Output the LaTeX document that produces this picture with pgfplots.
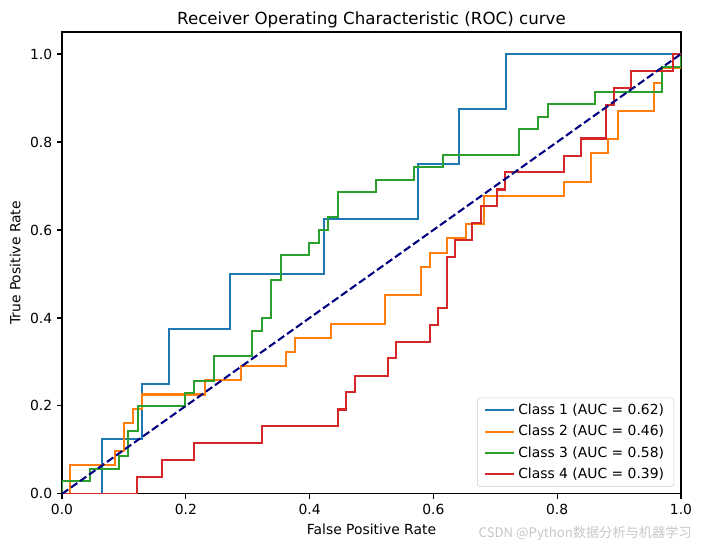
\documentclass[border=0pt]{standalone}
\usepackage{pgfplots}
\pgfplotsset{compat=1.18}
\usepackage{fontspec}
\setmainfont{DejaVu Sans}
\newfontfamily\cjk{Noto Sans CJK SC}

\definecolor{c0}{HTML}{1F77B4}
\definecolor{c1}{HTML}{FF7F0E}
\definecolor{c2}{HTML}{2CA02C}
\definecolor{c3}{HTML}{D62728}
\definecolor{navy}{HTML}{000080}

\begin{document}
\begin{tikzpicture}
  \begin{axis}[
    width=445.7pt, height=332.6pt, scale only axis,
    xmin=0, xmax=1, ymin=0, ymax=1.05,
    xtick={0,0.2,0.4,0.6,0.8,1},
    ytick={0,0.2,0.4,0.6,0.8,1},
    tick align=outside, tick pos=left,
    major tick length=3.5pt,
    every tick/.style={black, line width=0.8pt},
    axis line style={line width=0.8pt},
    /pgf/number format/assume math mode=true,
    /pgf/number format/.cd, fixed, fixed zerofill, precision=1, /pgfplots/.cd,
    ticklabel style={font=\fontsize{10}{12}\selectfont},
    title={Receiver Operating Characteristic (ROC) curve},
    title style={font=\fontsize{12}{14}\selectfont, yshift=-6.3pt},
    xlabel={False Positive Rate},
    ylabel={True Positive Rate},
    label style={font=\fontsize{10}{12}\selectfont},
    legend cell align=left,
    legend style={
      at={(1,0)}, anchor=south east, xshift=-5pt, yshift=5pt,
      draw=black!20, rounded corners=2pt, fill=white, fill opacity=0.8, text opacity=1,
      font=\fontsize{10}{12}\selectfont,
      row sep=2.2pt, inner xsep=5pt, inner ysep=2.5pt,
    },
    legend image code/.code={\draw[#1] (0pt,0pt) -- (21pt,0pt);},
  ]

    \addplot[c0, line width=1.5pt] coordinates {
      (0,0) (0.065,0) (0.065,0.125) (0.129,0.125) (0.129,0.25) (0.173,0.25)
      (0.173,0.375) (0.271,0.375) (0.271,0.5) (0.423,0.5) (0.423,0.625)
      (0.575,0.625) (0.575,0.75) (0.641,0.75) (0.641,0.875) (0.717,0.875)
      (0.717,1) (1,1)
    }; % class 1

    \addplot[c1, line width=1.5pt] coordinates {
      (0,0) (0.013,0) (0.013,0.065) (0.086,0.065) (0.086,0.097) (0.100,0.097)
      (0.100,0.161) (0.115,0.161) (0.115,0.194) (0.129,0.194) (0.129,0.226)
      (0.231,0.226) (0.231,0.258) (0.289,0.258) (0.289,0.290) (0.362,0.290)
      (0.362,0.323) (0.377,0.323) (0.377,0.355) (0.435,0.355) (0.435,0.387)
      (0.522,0.387) (0.522,0.452) (0.580,0.452) (0.580,0.516) (0.595,0.516)
      (0.595,0.548) (0.622,0.548) (0.622,0.581) (0.653,0.581) (0.653,0.613)
      (0.682,0.613) (0.682,0.677) (0.811,0.677) (0.811,0.710) (0.855,0.710)
      (0.855,0.774) (0.882,0.774) (0.882,0.806) (0.898,0.806) (0.898,0.871)
      (0.956,0.871) (0.956,0.935) (0.969,0.935) (0.969,0.968) (1,0.968) (1,1)
    }; % class 2

    \addplot[c2, line width=1.5pt] coordinates {
      (0,0) (0,0.029) (0.045,0.029) (0.045,0.057) (0.092,0.057) (0.092,0.086)
      (0.107,0.086) (0.107,0.143) (0.123,0.143) (0.123,0.2) (0.199,0.2)
      (0.199,0.229) (0.213,0.229) (0.213,0.257) (0.245,0.257) (0.245,0.314)
      (0.307,0.314) (0.307,0.371) (0.323,0.371) (0.323,0.4) (0.338,0.4)
      (0.338,0.486) (0.354,0.486) (0.354,0.543) (0.399,0.543) (0.399,0.571)
      (0.415,0.571) (0.415,0.6) (0.430,0.6) (0.430,0.629) (0.446,0.629)
      (0.446,0.686) (0.507,0.686) (0.507,0.714) (0.569,0.714) (0.569,0.743)
      (0.615,0.743) (0.615,0.771) (0.738,0.771) (0.738,0.829) (0.769,0.829)
      (0.769,0.857) (0.785,0.857) (0.785,0.886) (0.861,0.886) (0.861,0.914)
      (0.969,0.914) (0.969,0.971) (1,0.971) (1,1)
    }; % class 3

    \addplot[c3, line width=1.5pt] coordinates {
      (0,0) (0.121,0) (0.121,0.038) (0.162,0.038) (0.162,0.077) (0.213,0.077)
      (0.213,0.115) (0.323,0.115) (0.323,0.154) (0.446,0.154) (0.446,0.192)
      (0.459,0.192) (0.459,0.231) (0.473,0.231) (0.473,0.269) (0.527,0.269)
      (0.527,0.308) (0.540,0.308) (0.540,0.346) (0.595,0.346) (0.595,0.385)
      (0.607,0.385) (0.607,0.423) (0.622,0.423) (0.622,0.538) (0.635,0.538)
      (0.635,0.577) (0.662,0.577) (0.662,0.615) (0.677,0.615) (0.677,0.654)
      (0.703,0.654) (0.703,0.692) (0.716,0.692) (0.716,0.731) (0.811,0.731)
      (0.811,0.769) (0.838,0.769) (0.838,0.808) (0.879,0.808) (0.879,0.885)
      (0.892,0.885) (0.892,0.923) (0.919,0.923) (0.919,0.962) (0.987,0.962)
      (0.987,1) (1,1)
    }; % class 4

    \addplot[navy, line width=1.5pt, dash pattern=on 5.55pt off 2.4pt, forget plot]
      coordinates {(0,0) (1,1)};

    \legend{Class 1 (AUC = 0.62), Class 2 (AUC = 0.46), Class 3 (AUC = 0.58), Class 4 (AUC = 0.39)}
  \end{axis}
  \node[anchor=east, text=black!22, font=\cjk\fontsize{9.5}{11}\selectfont, inner sep=0pt]
    at ([xshift=7.9pt, yshift=-28.1pt]current axis.south east) {CSDN @Python数据分析与机器学习};
  \pgfresetboundingbox
  \useasboundingbox ([xshift=-44.64pt, yshift=-38.16pt]current axis.south west)
    rectangle ([xshift=15.12pt, yshift=23.04pt]current axis.north east);
\end{tikzpicture}
\end{document}
